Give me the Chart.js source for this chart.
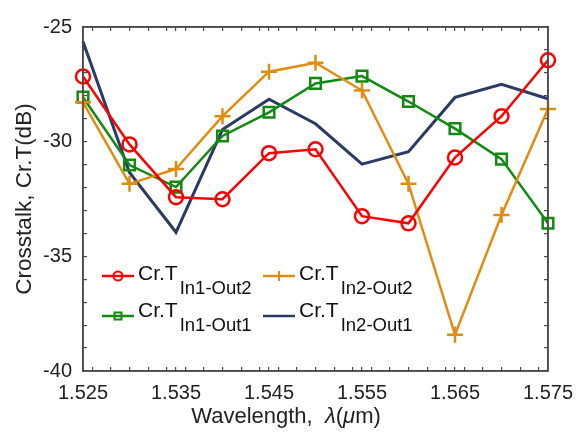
<!DOCTYPE html>
<html>
<head>
<meta charset="utf-8">
<script src="https://cdn.jsdelivr.net/npm/chart.js@4.4.0/dist/chart.umd.min.js"></script>
<style>
  html, body { margin: 0; padding: 0; background: #fff; }
  #wrap { width: 576px; height: 437px; }
</style>
</head>
<body>
<div id="wrap"><canvas id="crossChart"></canvas></div>
<script>
// wavelength in um, crosstalk in dB
const wavelengths = [1.525, 1.530, 1.535, 1.540, 1.545, 1.550, 1.555, 1.560, 1.565, 1.570, 1.575];
const in1Out2 = [-27.16, -30.12, -32.42, -32.51, -30.50, -30.33, -33.25, -33.56, -30.69, -28.89, -26.45];
const in2Out2 = [-28.28, -31.84, -31.19, -28.89, -26.95, -26.56, -27.77, -31.84, -38.42, -33.20, -28.58];
const in1Out1 = [-28.06, -31.02, -31.98, -29.75, -28.72, -27.46, -27.14, -28.25, -29.43, -30.76, -33.56];
const in2Out1 = [-25.63, -31.34, -33.95, -29.47, -28.15, -29.22, -30.98, -30.44, -28.07, -27.50, -28.13];

const xTickLabels = ['1.525', '1.535', '1.545', '1.555', '1.565', '1.575'];
const yTickLabels = ['-40', '-35', '-30', '-25'];
const legendMain = 'Cr.T';
const legendSubs = ['In1-Out2', 'In2-Out2', 'In1-Out1', 'In2-Out1'];

const RED = '#ff0000';
const ORANGE = '#e08c10';
const GREEN = '#128a12';
const NAVY = '#2a3a64';
const AXIS = '#4a4a4a';
const FONT = '"Liberation Sans", Arial, sans-serif';

function toPoints(vals) {
    return wavelengths.map((w, i) => ({ x: w, y: vals[i] }));
}

// tick marks: labelled ones plus minor ones (x every 0.002, y every 1 dB)
const xMarks = xTickLabels.map(parseFloat);
for (let k = 1526; k <= 1574; k += 2) xMarks.push(k / 1000);
xMarks.sort((p, q) => p - q);
const yMarks = [];
for (let v = -40; v <= -25; v++) yMarks.push(v);

function labelFor(list, v) {
    return list.find(t => Math.abs(parseFloat(t) - v) < 1e-9) || '';
}

function axisOpts(extra) {
    return Object.assign({
        grid: { display: true, drawOnChartArea: false, drawTicks: true, tickLength: -4, color: AXIS, lineWidth: 1.2 },
        border: { display: true, color: AXIS, width: 1.5 }
    }, extra);
}

// titles, legend with subscripts, and the plot box on top
const decor = {
    id: 'decor',
    afterDraw(chart) {
        const c = chart.ctx;
        const a = chart.chartArea;
        c.save();
        c.fillStyle = '#222';
        c.textBaseline = 'alphabetic';
        const parts = [
            ['Wavelength,  ', 'normal'], ['\u03bb', 'italic'], ['(', 'normal'],
            ['\u03bc', 'italic'], ['m)', 'normal']
        ];
        let total = 0;
        parts.forEach(p => { c.font = p[1] + ' 22px ' + FONT; total += c.measureText(p[0]).width; });
        let tx = 286 - total / 2;
        parts.forEach(p => {
            c.font = p[1] + ' 22px ' + FONT;
            c.fillText(p[0], tx, 423);
            tx += c.measureText(p[0]).width;
        });

        c.save();
        c.translate(31, (a.top + a.bottom) / 2);
        c.rotate(-Math.PI / 2);
        c.font = '22.5px ' + FONT;
        c.textAlign = 'center';
        c.fillText('Crosstalk, Cr.T(dB)', 0, 0);
        c.restore();

        const items = [
            { col: RED, m: 'circle', x: 102, y: 276, tb: 280 },
            { col: ORANGE, m: 'plus', x: 263, y: 276, tb: 280 },
            { col: GREEN, m: 'square', x: 102, y: 316, tb: 317 },
            { col: NAVY, m: 'none', x: 263, y: 316, tb: 317 }
        ];
        items.forEach((it, i) => {
            c.strokeStyle = it.col;
            c.lineWidth = 2.5;
            c.beginPath();
            c.moveTo(it.x, it.y);
            c.lineTo(it.x + 32, it.y);
            c.stroke();
            const cx = it.x + 16;
            c.lineWidth = 2;
            if (it.m === 'circle') {
                c.beginPath();
                c.arc(cx, it.y, 4.5, 0, Math.PI * 2);
                c.stroke();
            } else if (it.m === 'square') {
                c.strokeRect(cx - 3.5, it.y - 3.5, 7, 7);
            } else if (it.m === 'plus') {
                c.beginPath();
                c.moveTo(cx, it.y - 5);
                c.lineTo(cx, it.y + 5);
                c.stroke();
            }
            c.fillStyle = '#111';
            c.font = '21px ' + FONT;
            c.fillText(legendMain, it.x + 36, it.tb);
            const w = c.measureText(legendMain).width;
            c.font = '18.5px ' + FONT;
            c.fillText(legendSubs[i], it.x + 38 + w, it.tb + 14);
        });

        // plot box
        c.strokeStyle = AXIS;
        c.lineWidth = 1.5;
        c.strokeRect(Math.round(a.left), Math.round(a.top), Math.round(a.right - a.left), Math.round(a.bottom - a.top));
        c.restore();
    }
};

const ctx = document.getElementById('crossChart').getContext('2d');
const crossChart = new Chart(ctx, {
    type: 'line',
    data: {
        datasets: [{
            label: legendMain + ' ' + legendSubs[0],
            data: toPoints(in1Out2),
            borderColor: RED,
            borderWidth: 2.5,
            pointStyle: 'circle',
            pointRadius: 7,
            pointBorderWidth: 2.5,
            pointBackgroundColor: 'rgba(0,0,0,0)',
            pointBorderColor: RED,
            tension: 0,
            clip: false
        }, {
            label: legendMain + ' ' + legendSubs[1],
            data: toPoints(in2Out2),
            borderColor: ORANGE,
            borderWidth: 2.5,
            pointStyle: 'cross',
            pointRadius: 8,
            pointBorderWidth: 2.5,
            pointBorderColor: ORANGE,
            tension: 0,
            clip: false
        }, {
            label: legendMain + ' ' + legendSubs[2],
            data: toPoints(in1Out1),
            borderColor: GREEN,
            borderWidth: 2.5,
            pointStyle: 'rect',
            pointRadius: 7.5,
            pointBorderWidth: 2.5,
            pointBackgroundColor: 'rgba(0,0,0,0)',
            pointBorderColor: GREEN,
            tension: 0,
            clip: false
        }, {
            label: legendMain + ' ' + legendSubs[3],
            data: toPoints(in2Out1),
            borderColor: NAVY,
            borderWidth: 3,
            pointRadius: 0,
            tension: 0,
            clip: false
        }]
    },
    options: {
        responsive: true,
        maintainAspectRatio: false,
        animation: false,
        events: [],
        layout: { padding: { top: 23, right: 28, left: 0, bottom: 0 } },
        plugins: {
            legend: { display: false },
            tooltip: { enabled: false }
        },
        scales: {
            x: axisOpts({
                type: 'linear',
                position: 'bottom',
                min: 1.525,
                max: 1.575,
                afterBuildTicks: s => { s.ticks = xMarks.map(v => ({ value: v })); },
                afterFit: s => { s.height = 66; s.paddingLeft = 0; s.paddingRight = 0; },
                ticks: {
                    autoSkip: false,
                    maxRotation: 0,
                    padding: 14,
                    color: '#222',
                    font: { family: FONT, size: 20 },
                    callback: v => labelFor(xTickLabels, v)
                }
            }),
            x2: axisOpts({
                type: 'linear',
                position: 'top',
                min: 1.525,
                max: 1.575,
                afterBuildTicks: s => { s.ticks = xMarks.map(v => ({ value: v })); },
                afterFit: s => { s.height = 0; s.paddingLeft = 0; s.paddingRight = 0; },
                ticks: { display: false, autoSkip: false, maxRotation: 0 }
            }),
            y: axisOpts({
                position: 'left',
                min: -40,
                max: -25,
                afterBuildTicks: s => { s.ticks = yMarks.map(v => ({ value: v })); },
                afterFit: s => { s.width = 83; },
                ticks: {
                    autoSkip: false,
                    padding: 15,
                    color: '#222',
                    font: { family: FONT, size: 20 },
                    callback: v => labelFor(yTickLabels, v)
                }
            }),
            y2: axisOpts({
                position: 'right',
                min: -40,
                max: -25,
                afterBuildTicks: s => { s.ticks = yMarks.map(v => ({ value: v })); },
                afterFit: s => { s.width = 0; s.paddingTop = 0; s.paddingBottom = 0; },
                ticks: { display: false, autoSkip: false }
            })
        }
    },
    plugins: [decor]
});
</script>
</body>
</html>
